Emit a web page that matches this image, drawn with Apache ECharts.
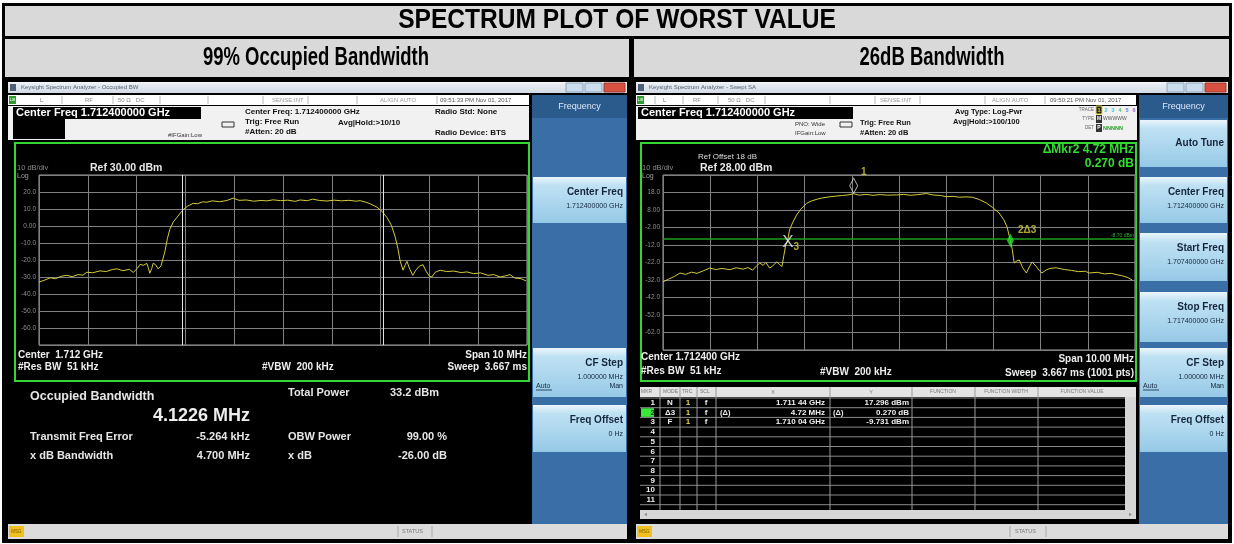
<!DOCTYPE html>
<html>
<head>
<meta charset="utf-8">
<script src="https://cdn.jsdelivr.net/npm/echarts@6/dist/echarts.min.js"></script>
<style>
html, body { margin: 0; padding: 0; background: #fff; }
#main { width: 1234px; height: 544px; }
</style>
</head>
<body>
<div id="main"></div>
<script>
// 99% OBW trace: offset from 1.7124 GHz (MHz) / level (dBm)
var obwFreq = [-5.00, -4.88, -4.77, -4.66, -4.55, -4.43, -4.32, -4.20, -4.10, -4.02, -3.90, -3.75, -3.62, -3.50, -3.40, -3.28, -3.15, -3.07, -2.98, -2.93,
  -2.86, -2.79, -2.76, -2.73, -2.69, -2.66, -2.61, -2.56, -2.50, -2.46, -2.42, -2.37, -2.32, -2.25, -2.17, -2.10, -2.05, -1.95, -1.84, -1.75,
  -1.65, -1.56, -1.45, -1.30, -1.15, -1.02, -0.90, -0.75, -0.60, -0.45, -0.33, -0.20, -0.05, 0.10, 0.25, 0.35, 0.50, 0.61, 0.75, 0.90,
  1.05, 1.20, 1.35, 1.50, 1.58, 1.70, 1.80, 1.93, 2.03, 2.13, 2.22, 2.30, 2.36, 2.40, 2.46, 2.51, 2.54, 2.60, 2.66, 2.72,
  2.80, 2.87, 2.93, 3.00, 3.05, 3.12, 3.22, 3.35, 3.50, 3.65, 3.77, 3.90, 4.05, 4.20, 4.32, 4.45, 4.55, 4.65, 4.75, 4.88, 4.98];
var obwLevel = [-33.0, -31.8, -30.5, -31.0, -29.6, -29.0, -29.8, -28.6, -28.9, -27.2, -27.5, -26.4, -26.8, -25.6, -25.2, -26.3, -25.5, -27.3, -24.8, -22.6,
  -23.1, -22.0, -24.5, -27.8, -25.0, -21.9, -22.8, -25.2, -23.5, -24.2, -15.0, -7.5, -2.0, 2.3, 5.2, 7.8, 9.4, 11.8, 13.3, 13.1,
  14.2, 14.0, 14.8, 14.3, 15.0, 16.4, 15.1, 15.3, 14.6, 15.0, 14.8, 15.4, 14.9, 15.2, 14.5, 15.3, 14.9, 15.8, 15.0, 14.7,
  15.2, 14.8, 15.1, 14.6, 14.9, 14.0, 12.9, 11.0, 8.6, 5.0, 0.5, -6.5, -14.0, -20.5, -26.0, -22.5, -20.8, -25.5, -29.0, -26.0,
  -23.5, -22.8, -26.5, -29.5, -30.0, -27.2, -26.0, -26.8, -26.5, -27.4, -27.0, -28.0, -27.6, -29.0, -28.6, -30.0, -29.4, -28.6, -30.6, -31.0, -32.3];
var obwEdges = [-2.066, 2.056];

// 26 dB bandwidth trace
var bwFreq = [-5.00, -4.88, -4.76, -4.64, -4.52, -4.40, -4.28, -4.15, -4.01, -3.88, -3.75, -3.58, -3.45, -3.30, -3.20, -3.10, -3.02, -2.95, -2.88, -2.82,
  -2.74, -2.68, -2.59, -2.53, -2.48, -2.44, -2.40, -2.36, -2.32, -2.25, -2.17, -2.08, -1.96, -1.85, -1.72, -1.62, -1.48, -1.35, -1.20, -1.08,
  -0.96, -0.84, -0.70, -0.55, -0.40, -0.25, -0.05, 0.10, 0.25, 0.40, 0.58, 0.72, 0.88, 1.00, 1.15, 1.28, 1.42, 1.55, 1.70, 1.85,
  1.98, 2.12, 2.22, 2.29, 2.36, 2.40, 2.44, 2.50, 2.55, 2.62, 2.70, 2.76, 2.82, 2.90, 2.97, 3.03, 3.12, 3.20, 3.33, 3.50,
  3.65, 3.80, 3.95, 4.03, 4.20, 4.35, 4.50, 4.60, 4.72, 4.85, 4.94];
var bwLevel = [-33.0, -31.5, -30.0, -28.0, -28.8, -27.5, -28.2, -26.8, -25.2, -26.0, -25.4, -26.1, -25.0, -25.8, -24.9, -26.4, -24.0, -22.3, -23.6, -22.0,
  -25.2, -24.0, -21.7, -23.2, -24.3, -18.0, -12.0, -9.7, -3.5, 1.0, 5.1, 8.5, 11.8, 13.2, 14.3, 14.9, 15.5, 15.9, 16.3, 16.6,
  17.3, 16.5, 16.9, 16.4, 16.8, 16.5, 16.6, 16.9, 16.4, 16.8, 17.4, 16.6, 16.3, 15.6, 15.8, 15.3, 15.5, 15.3, 14.0, 12.0,
  9.5, 6.3, 2.5, -1.7, -9.5, -14.5, -22.3, -21.0, -20.6, -25.0, -28.0, -24.5, -21.7, -24.0, -26.5, -28.0, -26.2, -25.4, -25.0, -26.0,
  -26.5, -27.2, -27.0, -28.0, -27.6, -28.5, -28.2, -28.9, -29.5, -30.6, -32.0];
var displayLine = -8.70;

// markers 1, 2, 3
var mkrFreq = [-0.96, 2.36, -2.36];
var mkrLevel = [17.296, -9.461, -9.731];
var mkrMode = ['N', 'Δ3', 'F'];
var mkrX = ['1.711 44 GHz', '4.72 MHz', '1.710 04 GHz'];
var mkrY = ['17.296 dBm', '0.270 dB', '-9.731 dBm'];

function pts(xs, ys) {
  return xs.map(function (x, i) { return [x, ys[i]]; });
}

var FONT = '"Liberation Sans", Arial, sans-serif';
var g = [];

function rect(x, y, w, h, fill, stroke, lw) {
  g.push({ type: 'rect', z: -10, shape: { x: x, y: y, width: w, height: h },
    style: { fill: fill, stroke: stroke || null, lineWidth: lw || 1 } });
}
function line(x1, y1, x2, y2, color, w, z) {
  g.push({ type: 'line', z: z == null ? -5 : z, shape: { x1: x1, y1: y1, x2: x2, y2: y2 },
    style: { stroke: color, lineWidth: w || 1 } });
}
function text(x, y, s, size, color, bold, align, sx) {
  g.push({ type: 'text', z: 20, x: x, y: y, scaleX: sx || 1,
    style: { text: s, fill: color, font: (bold ? 'bold ' : '') + size + 'px ' + FONT,
      align: align || 'left', verticalAlign: 'middle' } });
}
function vgrad(c0, c1, c2) {
  return { type: 'linear', x: 0, y: 0, x2: 0, y2: 1,
    colorStops: [{ offset: 0, color: c0 }, { offset: 0.18, color: c1 }, { offset: 1, color: c2 }] };
}

// ---- table frame + titles (condensed bold, squeezed horizontally)
rect(2, 3, 1230, 540, '#000');
rect(5, 6, 1224, 30, '#d9d9d9');
rect(5, 39, 624, 38, '#d9d9d9');
rect(634, 39, 595, 38, '#d9d9d9');
text(617, 21, 'SPECTRUM PLOT OF WORST VALUE', 27, '#000', true, 'center', 0.91);
text(316, 58, '99% Occupied Bandwidth', 25, '#000', true, 'center', 0.74);
text(932, 58, '26dB Bandwidth', 25, '#000', true, 'center', 0.74);

// ---- common screen chrome
function screen(x0, w, skW, title) {
  rect(x0, 80, w, 460, '#000');
  rect(x0 + 1, 82, w - 2, 11, vgrad('#f6f8fb', '#e8edf3', '#d3dbe4'));
  rect(x0 + 3, 84, 6, 7, '#4f6277');
  text(x0 + 14, 87.5, title, 6, '#56606e');
  rect(x0 + w - 62, 83, 17, 9, '#cbdcec', '#8fa6bd');
  rect(x0 + w - 43, 83, 17, 9, '#cbdcec', '#8fa6bd');
  rect(x0 + w - 24, 83, 21, 9, '#d8503f', '#9a3a30');
  var sx = x0 + w - skW - 4;
  rect(x0 + 1, 95, sx - x0 - 1, 10, '#fff');
  rect(x0 + 2, 96, 7, 8, '#2f9a2f');
  text(x0 + 5.5, 100, 'LXI', 3.5, '#dfffdf', true, 'center');
  var kx = x0 + w - skW - 1;
  rect(kx, 95, skW, 429, '#3a6ea7');
  rect(kx, 95, skW, 23, '#2b5a8d');
  text(kx + skW / 2, 107, 'Frequency', 9, '#dbe8f7', false, 'center');
  rect(x0 + 1, 524, w - 2, 15, '#dcdcdc');
  rect(x0 + 2, 526, 15, 11, '#f0c020');
  text(x0 + 9.5, 531.5, 'MSG', 4.5, '#7a5a00', false, 'center');
  return { sx: sx, kx: kx };
}
function key(kx, kw, y, h, label, value, autoMan) {
  rect(kx + 1, y, kw - 2, h, vgrad('#eaf6fc', '#bfe1f3', '#96c9e7'));
  var rx = kx + kw - 4;
  text(rx, y + (value ? 15 : h / 2), label, 10, '#14263b', true, 'right');
  if (value) text(rx, y + 29, value, 7, '#14263b', false, 'right');
  if (autoMan) {
    text(kx + 4, y + 38, 'Auto', 7, '#14263b');
    line(kx + 4, y + 42, kx + 20, y + 42, '#14263b', 0.8, 21);
    text(rx, y + 38, 'Man', 7, '#14263b', false, 'right');
  }
}

// ================= LEFT screen (Occupied BW)
var L = screen(7, 621, 95, 'Keysight Spectrum Analyzer - Occupied BW');
[62, 113, 160, 208, 263, 308, 357, 437].forEach(function (x) { line(x, 96, x, 104, '#b9b9b9'); });
text(40, 100, 'L', 6, '#777');
text(85, 100, 'RF', 6, '#888');
text(118, 100, '50 Ω   DC', 6, '#888');
text(272, 100, 'SENSE:INT', 6, '#999');
text(380, 100, 'ALIGN AUTO', 6, '#999');
text(440, 100, '09:51:33 PM Nov 01, 2017', 6, '#555');
rect(8, 106, 521, 34, '#f1f1f1');
rect(13, 107, 188, 12, '#000');
rect(13, 119, 52, 20, '#000');
text(16, 113, 'Center Freq 1.712400000 GHz', 11, '#fff', true);
text(168, 135, '#IFGain:Low', 6, '#333');
rect(222, 122, 12, 5, 'rgba(0,0,0,0)', '#333', 1);
text(245, 112, 'Center Freq: 1.712400000 GHz', 8, '#111', true);
text(245, 122, 'Trig: Free Run', 8, '#111', true);
text(338, 123, 'Avg|Hold:>10/10', 8, '#111', true);
text(245, 132, '#Atten: 20 dB', 8, '#111', true);
text(435, 112, 'Radio Std: None', 8, '#111', true);
text(435, 133, 'Radio Device: BTS', 8, '#111', true);
rect(15, 143, 514, 238, '#000', '#33d633', 2);
text(17, 168, '10 dB/div', 7.5, '#8c8c8c');
text(90, 168, 'Ref 30.00 dBm', 10.5, '#e8e8e8', true);
text(17, 176, 'Log', 7, '#a0a0a0');
text(18, 355, 'Center  1.712 GHz', 10, '#eeeeee', true);
text(18, 367, '#Res BW  51 kHz', 10, '#eeeeee', true);
text(262, 367, '#VBW  200 kHz', 10, '#eeeeee', true);
text(527, 355, 'Span 10 MHz', 10, '#eeeeee', true, 'right');
text(527, 367, 'Sweep  3.667 ms', 10, '#eeeeee', true, 'right');
text(30, 397, 'Occupied Bandwidth', 12.5, '#e6e6e6', true);
text(250, 416, '4.1226 MHz', 18, '#ededed', true, 'right');
text(288, 393, 'Total Power', 11, '#e6e6e6', true);
text(390, 393, '33.2 dBm', 11, '#e6e6e6', true);
text(30, 437, 'Transmit Freq Error', 11, '#e6e6e6', true);
text(250, 437, '-5.264 kHz', 11, '#e6e6e6', true, 'right');
text(288, 437, 'OBW Power', 11, '#e6e6e6', true);
text(447, 437, '99.00 %', 11, '#e6e6e6', true, 'right');
text(30, 456, 'x dB Bandwidth', 11, '#e6e6e6', true);
text(250, 456, '4.700 MHz', 11, '#e6e6e6', true, 'right');
text(288, 456, 'x dB', 11, '#e6e6e6', true);
text(447, 456, '-26.00 dB', 11, '#e6e6e6', true, 'right');
key(L.kx, 95, 177, 46, 'Center Freq', '1.712400000 GHz');
key(L.kx, 95, 348, 49, 'CF Step', '1.000000 MHz', true);
key(L.kx, 95, 405, 47, 'Freq Offset', '0 Hz');
line(398, 526, 398, 537, '#aaa');
line(432, 526, 432, 537, '#aaa');
text(402, 531.5, 'STATUS', 5.5, '#777');

// ================= RIGHT screen (Swept SA)
var R = screen(635, 594, 89, 'Keysight Spectrum Analyzer - Swept SA');
[655, 683, 718, 765, 830, 875, 920, 985, 1045].forEach(function (x) { line(x, 96, x, 104, '#b9b9b9'); });
text(663, 100, 'L', 6, '#777');
text(693, 100, 'RF', 6, '#888');
text(728, 100, '50 Ω   DC', 6, '#888');
text(880, 100, 'SENSE:INT', 6, '#999');
text(992, 100, 'ALIGN AUTO', 6, '#999');
text(1050, 100, '09:50:21 PM Nov 01, 2017', 6, '#555');
rect(636, 106, 501, 34, '#f1f1f1');
rect(638, 107, 215, 12, '#000');
text(641, 113, 'Center Freq 1.712400000 GHz', 11, '#fff', true);
text(795, 124, 'PNO: Wide', 6, '#333');
text(795, 133, 'IFGain:Low', 6, '#333');
rect(840, 122, 12, 5, 'rgba(0,0,0,0)', '#333', 1);
text(860, 123, 'Trig: Free Run', 7.5, '#111', true);
text(860, 133, '#Atten: 20 dB', 7.5, '#111', true);
text(955, 112, 'Avg Type: Log-Pwr', 7.5, '#111', true);
text(953, 122, 'Avg|Hold:>100/100', 7.5, '#111', true);
text(1094, 110, 'TRACE', 4.5, '#666', false, 'right');
text(1094, 119, 'TYPE', 4.5, '#666', false, 'right');
text(1094, 128, 'DET', 4.5, '#666', false, 'right');
['#e8d84a', '#3fc6d8', '#3fc6d8', '#5fbf5f', '#5f7fdf', '#9f5fdf'].forEach(function (c, i) {
  rect(1096 + i * 7, 106, 6, 8, i === 0 ? '#222' : '#f1f1f1', i === 0 ? '#e8d84a' : null);
  text(1099 + i * 7, 110, String(i + 1), 5.5, c, true, 'center');
});
rect(1096, 115, 6, 8, '#333');
text(1099, 119, 'M', 5, '#fff', true, 'center');
text(1103, 119, 'WWWWW', 5, '#555');
rect(1096, 124, 6, 8, '#333');
text(1099, 128, 'P', 5, '#fff', true, 'center');
text(1103, 128, 'NNNNN', 5.5, '#2a9a2a', true);
rect(641, 143, 495, 238, '#000', '#33d633', 2);
text(698, 157, 'Ref Offset 18 dB', 8, '#dddddd');
text(642, 168, '10 dB/div', 7.5, '#8c8c8c');
text(700, 168, 'Ref 28.00 dBm', 10.5, '#e8e8e8', true);
text(642, 176, 'Log', 7, '#a0a0a0');
text(1134, 150, 'ΔMkr2 4.72 MHz', 12, '#33dd33', true, 'right');
text(1134, 164, '0.270 dB', 12, '#33dd33', true, 'right');
text(641, 357, 'Center 1.712400 GHz', 10, '#eeeeee', true);
text(641, 371, '#Res BW  51 kHz', 10, '#eeeeee', true);
text(820, 372, '#VBW  200 kHz', 10, '#eeeeee', true);
text(1134, 359, 'Span 10.00 MHz', 10, '#eeeeee', true, 'right');
text(1134, 373, 'Sweep  3.667 ms (1001 pts)', 10, '#eeeeee', true, 'right');

// marker table
rect(640, 387, 496, 10, '#e4e4e4');
rect(1125, 397, 11, 113, '#d6d6d6');
rect(640, 510, 496, 9, '#d6d6d6');
var rowTop = 398, rowH = 9.7;
for (var r = 0; r <= 11; r++) line(640, rowTop + r * rowH, 1125, rowTop + r * rowH, '#8a8a8a', 1, 5);
[660, 680, 697, 716, 830, 912, 975, 1038].forEach(function (x) { line(x, 387, x, 510, '#9a9a9a', 1, 5); });
text(641, 392, 'MKR', 5, '#777');
text(663, 392, 'MODE', 5, '#777');
text(682, 392, 'TRC', 5, '#777');
text(700, 392, 'SCL', 5, '#777');
text(773, 392, 'X', 5.5, '#777', false, 'center');
text(871, 392, 'Y', 5.5, '#777', false, 'center');
text(943, 392, 'FUNCTION', 5, '#777', false, 'center');
text(1006, 392, 'FUNCTION WIDTH', 5, '#777', false, 'center');
text(1082, 392, 'FUNCTION VALUE', 5, '#777', false, 'center');
rect(641, rowTop + rowH + 0.5, 13, rowH - 1, '#39e639');
for (var n = 1; n <= 11; n++) {
  text(655, rowTop + (n - 0.5) * rowH, String(n), 8, n === 2 ? '#113311' : '#f0f0f0', true, 'right');
}
mkrMode.forEach(function (m, i) {
  var y = rowTop + (i + 0.5) * rowH;
  text(670, y, m, 8, '#f0f0f0', true, 'center');
  text(688, y, '1', 8, '#e8d84a', true, 'center');
  text(706, y, 'f', 8, '#f0f0f0', true, 'center');
  if (i === 1) { text(720, y, '(Δ)', 7.5, '#f0f0f0', true); text(833, y, '(Δ)', 7.5, '#f0f0f0', true); }
  text(825, y, mkrX[i], 8, '#f0f0f0', true, 'right');
  text(909, y, mkrY[i], 8, '#f0f0f0', true, 'right');
});
text(644, 514.5, '◂', 6, '#888');
text(1130, 514.5, '▸', 6, '#888', false, 'center');
var rkx = R.kx;
key(rkx, 89, 120, 47, 'Auto Tune', null);
key(rkx, 89, 177, 46, 'Center Freq', '1.712400000 GHz');
key(rkx, 89, 233, 48, 'Start Freq', '1.707400000 GHz');
key(rkx, 89, 292, 50, 'Stop Freq', '1.717400000 GHz');
key(rkx, 89, 348, 49, 'CF Step', '1.000000 MHz', true);
key(rkx, 89, 405, 47, 'Freq Offset', '0 Hz');
line(1010, 526, 1010, 537, '#aaa');
line(1046, 526, 1046, 537, '#aaa');
text(1015, 531.5, 'STATUS', 5.5, '#777');

// ---- axes helpers
function xAx(idx) {
  return { gridIndex: idx, type: 'value', min: -5, max: 5, interval: 1,
    axisLabel: { show: false }, axisTick: { show: false }, axisLine: { show: false },
    splitLine: { show: true, lineStyle: { color: '#808080', width: 1 } } };
}
function yAx(idx, min, max, fmt) {
  return { gridIndex: idx, type: 'value', min: min, max: max, interval: 10,
    axisTick: { show: false }, axisLine: { show: false },
    axisLabel: { color: '#8f8f8f', fontSize: 6.5, fontFamily: FONT, margin: 3, formatter: fmt },
    splitLine: { show: true, lineStyle: { color: '#808080', width: 1 } } };
}

var myChart = echarts.init(document.getElementById('main'), null, { renderer: 'canvas' });
myChart.setOption({
  animation: false,
  backgroundColor: '#ffffff',
  graphic: { elements: g },
  grid: [
    { left: 39, top: 175, width: 488, height: 170, show: true, borderColor: '#a0a0a0', borderWidth: 1 },
    { left: 663, top: 175, width: 472, height: 175, show: true, borderColor: '#a0a0a0', borderWidth: 1 }
  ],
  xAxis: [xAx(0), xAx(1)],
  yAxis: [
    yAx(0, -70, 30, function (v) { return (v === 30 || v === -70) ? '' : (v === 0 ? '0.00' : v.toFixed(1)); }),
    yAx(1, -72, 28, function (v) { return (v === 28 || v === -72) ? '' : (Math.abs(v) < 10 ? v.toFixed(2) : v.toFixed(1)); })
  ],
  series: [
    {
      name: 'OBW', type: 'line', xAxisIndex: 0, yAxisIndex: 0, data: pts(obwFreq, obwLevel),
      showSymbol: false, lineStyle: { color: '#d3cc3e', width: 1 },
      markLine: { silent: true, symbol: 'none', label: { show: false },
        lineStyle: { color: '#e2e2e2', width: 1, type: 'solid' },
        data: obwEdges.map(function (f) { return { xAxis: f }; }) }
    },
    {
      name: '26dB', type: 'line', xAxisIndex: 1, yAxisIndex: 1, data: pts(bwFreq, bwLevel),
      showSymbol: false, lineStyle: { color: '#d3cc3e', width: 1 },
      markLine: { silent: true, symbol: 'none',
        lineStyle: { color: '#1e9e1e', width: 1.5, type: 'solid' },
        label: { show: true, position: 'insideEndTop', formatter: displayLine.toFixed(2) + ' dBm',
          color: '#2fb52f', fontSize: 5, distance: 1 },
        data: [{ yAxis: displayLine }] }
    },
    {
      name: 'mkr1', type: 'scatter', xAxisIndex: 1, yAxisIndex: 1, z: 5,
      data: [[mkrFreq[0], mkrLevel[0]]], symbol: 'diamond', symbolSize: [8, 15], symbolOffset: [0, -8],
      itemStyle: { color: 'rgba(0,0,0,0)', borderColor: '#d8d8d8', borderWidth: 1 },
      label: { show: true, formatter: '1', position: 'right', offset: [-2, -13], color: '#d8d040', fontSize: 10, fontWeight: 'bold' }
    },
    {
      name: 'mkr2', type: 'scatter', xAxisIndex: 1, yAxisIndex: 1, z: 5,
      data: [[mkrFreq[1], mkrLevel[1]]], symbol: 'diamond', symbolSize: [7, 14],
      itemStyle: { color: '#27e027' },
      label: { show: true, formatter: '2Δ3', position: 'right', offset: [-1, -10], color: '#d8d040', fontSize: 10, fontWeight: 'bold' }
    },
    {
      name: 'mkr3', type: 'scatter', xAxisIndex: 1, yAxisIndex: 1, z: 5,
      data: [[mkrFreq[2], mkrLevel[2]]], symbolSize: 1, itemStyle: { color: 'rgba(0,0,0,0)' },
      label: { show: true, position: 'inside', offset: [3, 1], formatter: '{a|X}{b|3}',
        rich: { a: { color: '#f0f0f0', fontSize: 17, fontFamily: FONT }, b: { color: '#d8d040', fontSize: 10, fontWeight: 'bold', padding: [10, 0, 0, 0] } } }
    }
  ]
});
</script>
</body>
</html>
